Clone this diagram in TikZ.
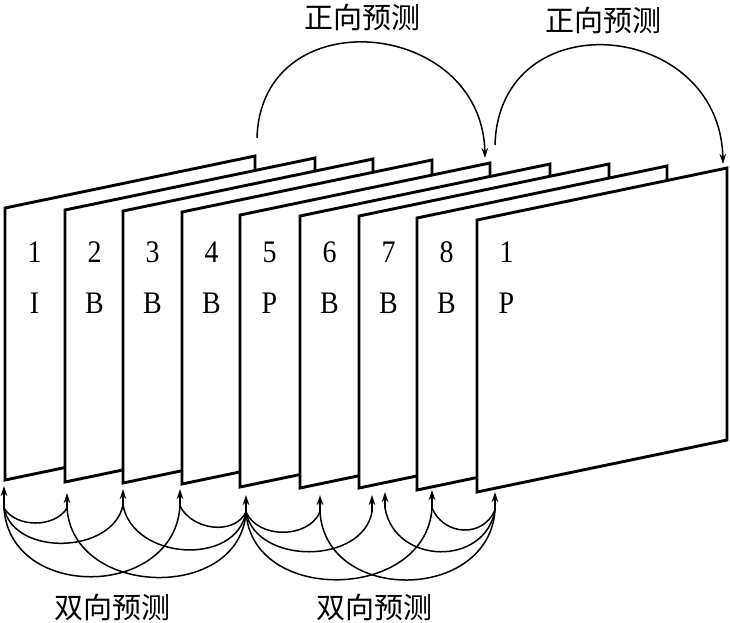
\documentclass[tikz,border=0pt]{standalone}
\usepackage{fontspec}
\setmainfont{Liberation Serif}
\newfontfamily\cjk{Noto Sans CJK SC}
\usetikzlibrary{arrows.meta}
\begin{document}
\begin{tikzpicture}[x=1pt,y=-1pt,
  framebox/.style={draw=black,line width=2.9pt,fill=white,line join=miter},
  link/.style={draw=black,line width=1.5pt},
  tipline/.style={draw=black,line width=1.5pt,-{Stealth[length=10pt,width=6.5pt]}},
  lbl/.style={font=\fontsize{28}{28}\selectfont,inner sep=0pt},
  cn/.style={font=\cjk\fontsize{29}{29}\selectfont,inner sep=0pt}]
\useasboundingbox (0,0) rectangle (730,622);
\fill[white] (0,0) rectangle (730,622);
% frames
\foreach \fx/\fy/\num/\typ [count=\i] in {5/208/1/I, 65/210/2/B, 123/211/3/B, 182/212/4/B, 240/215/5/P, 300/216/6/B, 359/216/7/B, 417/218/8/B, 477/220/1/P}{
  \draw[framebox] (\fx,\fy) -- ++(250,-52) -- ++(0,272) -- ++(-250,52) -- cycle;
  \node[lbl] (num\i) at (\fx+29.5,252) {\scalebox{1}[1.12]{\num}};
  \node[lbl] (typ\i) at (\fx+29.5,303) {\scalebox{1}[1.12]{\typ}};
}
% top forward prediction
\coordinate (F1s) at (257,138);
\coordinate (F1e) at (485,158);
\coordinate (F2s) at (495,145);
\coordinate (F2e) at (723,164);
\draw[tipline] (F1s) .. controls +(4,-140) and +(-3,-140) .. (F1e);
\draw[tipline] (F2s) .. controls +(4,-145) and +(-3,-145) .. (F2e);
\node[cn] (fw1) at (362,17) {正向预测};
\node[cn] (fw2) at (603,20) {正向预测};
% bottom arrow tips and junctions
\foreach \nm/\tx/\ty/\jy in {1/4/486/508, 2/67/493/508, 3/123/489/505, 4/180/489/506, 5/246/495/512, 6/320/495/512, 7a/372/495/512, 7b/385/492/508, 8/432/490/508, 9/495/492/510}{
  \coordinate (T\nm) at (\tx,\ty);
  \coordinate (J\nm) at (\tx,\jy);
  \draw[tipline] (J\nm) -- (T\nm);
}
% group 1
\draw[link] (J1) .. controls +(12,20) and +(-12,20) .. (J2);
\draw[link] (J1) .. controls +(10,49) and +(-10,49) .. (J3);
\draw[link] (J1) .. controls +(6,93) and +(-6,93) .. (J4);
\draw[link] (J5) .. controls +(-12,24) and +(12,24) .. (J4);
\draw[link] (J5) .. controls +(-10,55) and +(10,55) .. (J3);
\draw[link] (J5) .. controls +(-6,90) and +(6,90) .. (J2);
% group 2
\draw[link] (J5) .. controls +(12,27) and +(-12,27) .. (J6);
\draw[link] (J5) .. controls +(10,53) and +(-10,53) .. (J7a);
\draw[link] (J5) .. controls +(6,93) and +(-6,93) .. (J8);
\draw[link] (J9) .. controls +(-12,28) and +(12,28) .. (J8);
\draw[link] (J9) .. controls +(-10,57) and +(10,57) .. (J7b);
\draw[link] (J9) .. controls +(-6,92) and +(6,92) .. (J6);
\node[cn] (bi1) at (112,607) {双向预测};
\node[cn] (bi2) at (374,607) {双向预测};
\end{tikzpicture}
\end{document}
